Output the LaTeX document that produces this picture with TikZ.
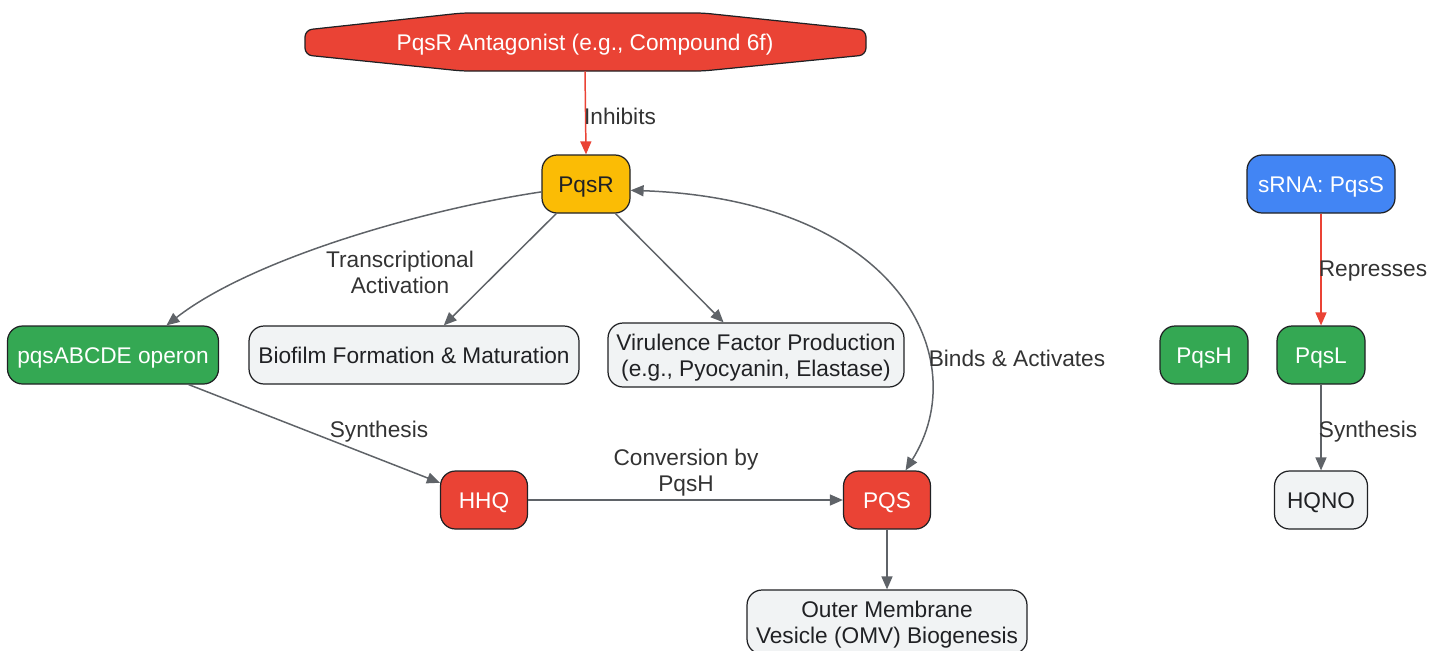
\documentclass[tikz,border=0pt]{standalone}
\usepackage{fontspec}
\setmainfont{Liberation Sans}
\usepackage{tikz}
\usetikzlibrary{positioning, arrows.meta}
\definecolor{gred}{HTML}{EA4335}
\definecolor{ggreen}{HTML}{34A853}
\definecolor{gyellow}{HTML}{FBBC05}
\definecolor{gblue}{HTML}{4285F4}
\definecolor{gpale}{HTML}{F1F3F4}
\definecolor{edgegray}{HTML}{5F6368}
\definecolor{inkdark}{HTML}{202124}
\definecolor{labelink}{HTML}{333333}
\newcommand{\diagfont}{\fontsize{12.9}{14.8}\selectfont}

\begin{document}
\begin{tikzpicture}[x=0.02cm, y=-0.02cm,
  box/.style={rounded corners=0.3cm, draw=inkdark, line width=0.7pt, inner sep=0pt,
    minimum height=1.16cm, align=center, font=\diagfont, text height=0.4cm, text depth=0.08cm},
  twoline/.style={minimum height=1.28cm, text height=0.92cm},
  gene/.style={box, fill=ggreen, text=white},
  signal/.style={box, fill=gred, text=white},
  effect/.style={box, fill=gpale, text=inkdark},
  link/.style={draw=edgegray, line width=0.85pt, -{Triangle[length=0.26cm, width=0.22cm]}},
  block/.style={draw=gred, line width=0.85pt, -{Triangle[length=0.26cm, width=0.22cm]}},
  elabel/.style={text=labelink, align=center, font=\diagfont}]
\useasboundingbox (0,0) rectangle (1442,650);
% Antagonist (stretched hexagon)
\fill[gred, draw=inkdark, line width=0.7pt, rounded corners=0.14cm]
  (462,13) -- (703,13) -- (866,30) -- (866,55) -- (703,71) -- (462,71) -- (305,55) -- (305,30) -- cycle;
\node[font=\diagfont, text=white, minimum height=1.16cm, inner sep=0pt,
  text height=0.4cm, text depth=0.08cm] (antag) at (585,42) {PqsR Antagonist (e.g., Compound 6f)};
% Regulators
\node[box, fill=gyellow, text=inkdark, minimum width=1.76cm] (pqsr) at (586,184) {PqsR};
\node[box, fill=gblue, text=white, minimum width=2.96cm] (srna) at (1321,184) {sRNA: PqsS};
% Middle row
\node[gene, minimum width=4.22cm] (operon) at (113,355) {pqsABCDE operon};
\node[effect, minimum width=6.6cm] (biofilm) at (414,355) {Biofilm Formation \& Maturation};
\node[effect, twoline, minimum width=5.92cm] (virulence) at (756,355) {Virulence Factor Production\\(e.g., Pyocyanin, Elastase)};
\node[gene, minimum width=1.76cm] (pqsh) at (1204,355) {PqsH};
\node[gene, minimum width=1.76cm] (pqsl) at (1321,355) {PqsL};
% Signal molecules
\node[signal, minimum width=1.74cm] (hhq) at (484,500) {HHQ};
\node[signal, minimum width=1.74cm] (pqs) at (887,500) {PQS};
\node[effect, minimum width=1.86cm] (hqno) at (1321,500) {HQNO};
\node[effect, twoline, minimum width=5.6cm] (omv) at (887,622) {Outer Membrane\\Vesicle (OMV) Biogenesis};
% Connectors
\draw[block] (antag.south) -- (pqsr.north);
\draw[link] (pqsr.190) .. controls (420,210) and (250,260) .. (operon.29);
\draw[link] (pqsr) -- (biofilm);
\draw[link] (pqsr) -- (virulence);
\draw[link, {Triangle[length=0.26cm, width=0.22cm]}-{Triangle[length=0.26cm, width=0.22cm]}]
  (pqsr.-8) .. controls (900,200) and (975,360) .. (pqs.58);
\draw[link] (operon) -- (hhq);
\draw[link] (hhq) -- (pqs);
\draw[link] (pqs) -- (omv);
\draw[block] (srna) -- (pqsl);
\draw[link] (pqsl) -- (hqno);
% Edge labels
\node[elabel] (l1) at (620,116) {Inhibits};
\node[elabel] (l2) at (400,272) {Transcriptional\\Activation};
\node[elabel] (l3) at (1017,358) {Binds \& Activates};
\node[elabel] (l4) at (379,432) {Synthesis};
\node[elabel] (l5) at (686,473) {Conversion by\\PqsH};
\node[elabel] (l6) at (1373,271) {Represses};
\node[elabel] (l7) at (1368,432) {Synthesis};
\end{tikzpicture}
\end{document}
